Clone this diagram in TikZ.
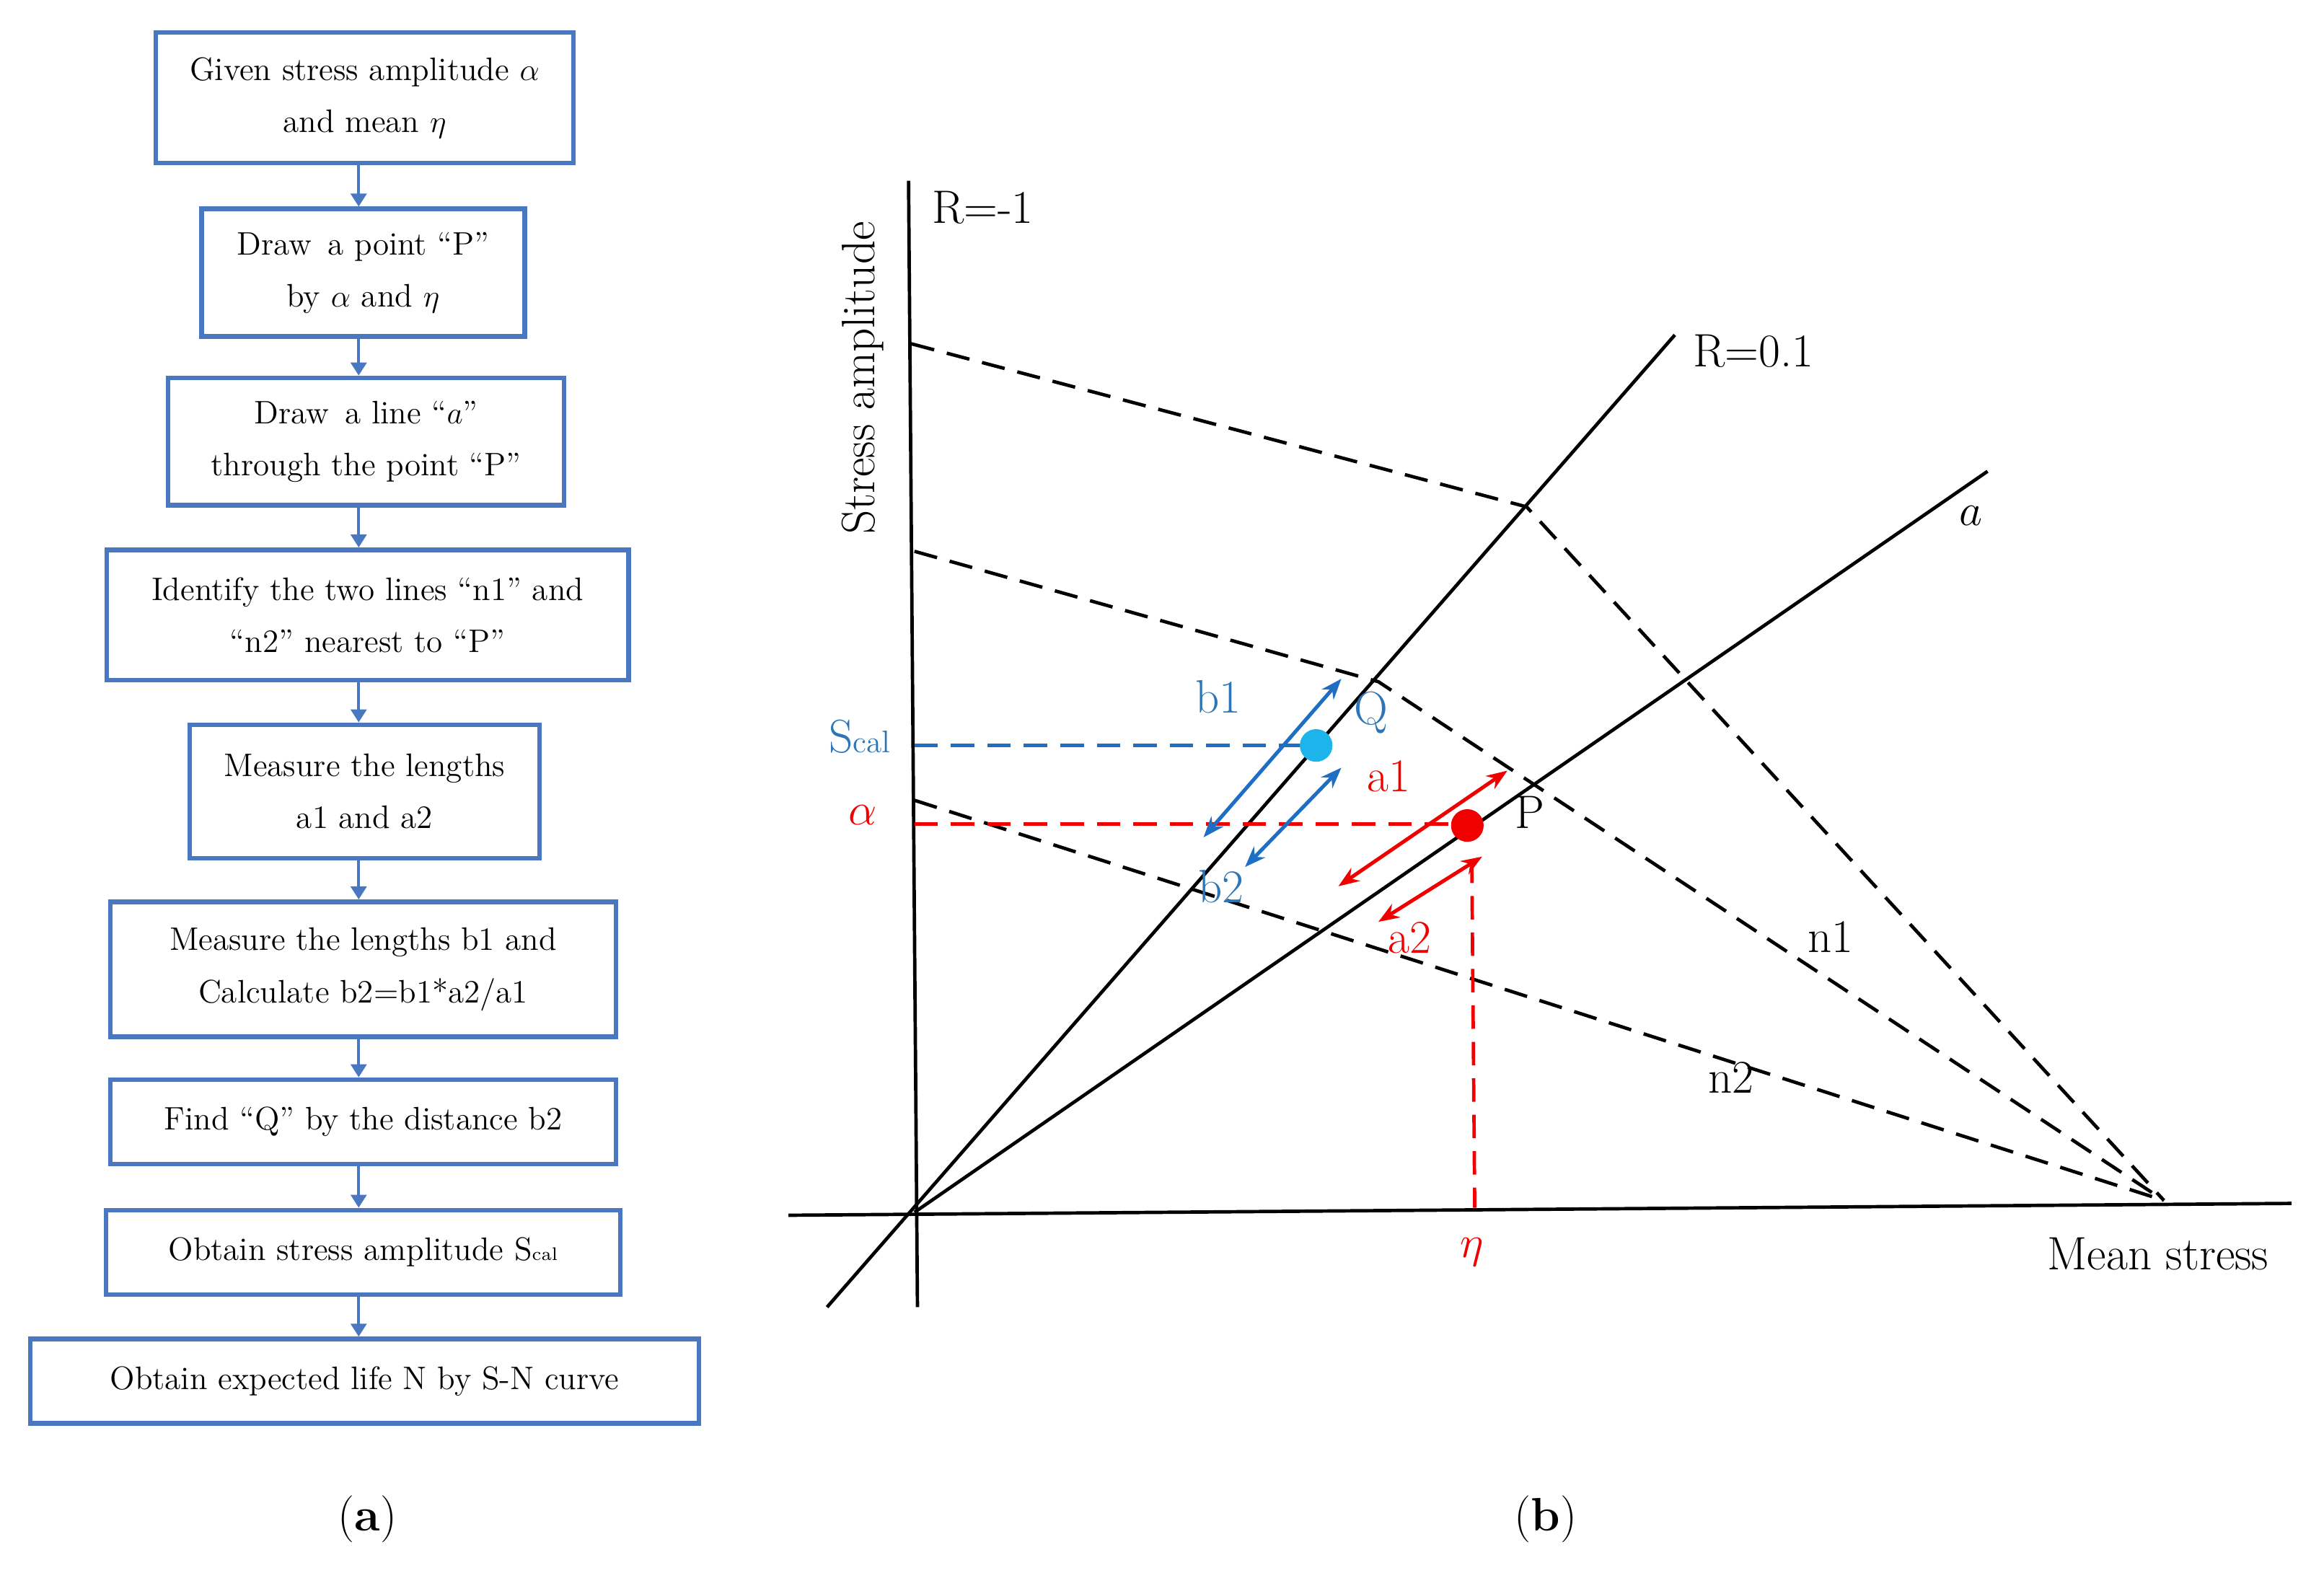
\documentclass[tikz,border=0pt]{standalone}
\usetikzlibrary{arrows.meta}
\definecolor{fb}{HTML}{4A78C0}
\definecolor{bt}{HTML}{2E75B6}
\definecolor{ba}{HTML}{1E6FC4}
\definecolor{cy}{HTML}{1DB4EC}
\definecolor{rd}{HTML}{F00000}
\begin{document}
\begin{tikzpicture}[x=0.02cm,y=-0.02cm,
  box/.style={draw=fb,line width=1.8pt,align=center,inner sep=0pt,font=\fontsize{12.5}{20}\selectfont},
  flow/.style={draw=fb,line width=1.2pt,-{Triangle[length=5pt,width=6pt]}},
  ax/.style={line width=1.3pt},
  dsh/.style={line width=1.3pt,dash pattern=on 9pt off 5pt},
  lbl/.style={font=\fontsize{18}{20}\selectfont},
  darr/.style={line width=1.4pt,{Stealth[length=8pt]}-{Stealth[length=8pt]}}]
\useasboundingbox (0,0) rectangle (1568,1061);
% flowchart
\node[box,minimum width=282*0.02cm,minimum height=88*0.02cm] (f1) at (246,66) {Given stress amplitude $\alpha$\\and mean $\eta$};
\node[box,minimum width=218*0.02cm,minimum height=86*0.02cm] (f2) at (245,184) {Draw\, a point ``P''\\by $\alpha$ and $\eta$};
\node[box,minimum width=267*0.02cm,minimum height=86*0.02cm] (f3) at (247,298) {Draw\, a line ``$a$''\\through the point ``P''};
\node[box,minimum width=352*0.02cm,minimum height=88*0.02cm] (f4) at (248,415) {Identify the two lines ``n1'' and\\``n2'' nearest to ``P''};
\node[box,minimum width=236*0.02cm,minimum height=90*0.02cm] (f5) at (246,534) {Measure the lengths\\a1 and a2};
\node[box,minimum width=341*0.02cm,minimum height=91*0.02cm] (f6) at (245,654) {Measure the lengths b1 and\\Calculate b2=b1*a2/a1};
\node[box,minimum width=341*0.02cm,minimum height=57*0.02cm] (f7) at (245,757) {Find ``Q'' by the distance b2};
\node[box,minimum width=347*0.02cm,minimum height=57*0.02cm] (f8) at (245,845) {Obtain stress amplitude S{\scriptsize cal}};
\node[box,minimum width=451*0.02cm,minimum height=57*0.02cm] (f9) at (246,932) {Obtain expected life N by S-N curve};
\foreach \a/\b in {f1/f2,f2/f3,f3/f4,f4/f5,f5/f6,f6/f7,f7/f8,f8/f9}
  \draw[flow] (\a.south -| 242,0) -- (\b.north -| 242,0);
\node[lbl] (la) at (248,1025) {(\textbf{a})};
\node[lbl] (lb) at (1043,1025) {(\textbf{b})};
% diagram coordinates
\coordinate (O) at (617,818);
\coordinate (yt) at (613,122); \coordinate (yb) at (619,882);
\coordinate (xl) at (532,820); \coordinate (xr) at (1546,812);
\coordinate (rb) at (558,882); \coordinate (rt) at (1130,226);
\coordinate (at) at (1341,318);
\coordinate (F) at (1460,810);
\coordinate (t0) at (615,232); \coordinate (t1) at (1030,342);
\coordinate (m0) at (617,372); \coordinate (m1) at (930,460);
\coordinate (n0) at (617,540);
\draw[ax] (yt) -- (yb);
\draw[ax] (xl) -- (xr);
\draw[ax] (rb) -- (rt);
\draw[ax] (O) -- (at);
\draw[dsh] (t0) -- (t1) -- (F);
\draw[dsh] (m0) -- (m1) -- (F);
\draw[dsh] (n0) -- (F);
\node[lbl] (rm1) at (663,140) {R=-1};
\node[lbl] (r01) at (1183,237) {R=0.1};
\node[lbl,font=\fontsize{18}{20}\selectfont\itshape] (la2) at (1330,348) {$a$};
\node[lbl,rotate=90] (sa) at (582,255) {Stress amplitude};
\node[lbl] (ms) at (1456,846) {Mean stress};
\node[lbl] (ln1) at (1235,632) {n1};
\node[lbl] (ln2) at (1168,727) {n2};
% red
\coordinate (ay) at (617,556); \coordinate (ex) at (995,815); \coordinate (pt) at (993,580);
\draw[dsh,rd] (ay) -- (990,556);
\draw[dsh,rd] (pt) -- (ex);
\node[circle,fill=rd,inner sep=0pt,minimum size=22*0.02cm] (P) at (990,557) {};
\node[lbl,text=rd] (al) at (582,550) {$\alpha$};
\node[lbl,text=rd] (et) at (993,845) {$\eta$};
\coordinate (a1s) at (903,598); \coordinate (a1e) at (1017,520);
\coordinate (a2s) at (930,622); \coordinate (a2e) at (1000,578);
\draw[darr,rd] (a1s) -- (a1e);
\draw[darr,rd] (a2s) -- (a2e);
\node[lbl,text=rd] (la1) at (937,524) {a1};
\node[lbl,text=rd] (la2b) at (951,633) {a2};
\node[lbl] (lP) at (1032,548) {P};
% blue
\coordinate (sy) at (617,503);
\draw[dsh,ba] (sy) -- (880,503);
\node[circle,fill=cy,inner sep=0pt,minimum size=22*0.02cm] (Q) at (888,503) {};
\node[lbl,text=bt] (sc) at (580,497) {S{\fontsize{12}{12}\selectfont cal}};
\coordinate (b1s) at (812,565); \coordinate (b1e) at (905,458);
\coordinate (b2s) at (840,585); \coordinate (b2e) at (905,518);
\draw[darr,ba] (b1s) -- (b1e);
\draw[darr,ba] (b2s) -- (b2e);
\node[lbl,text=bt] (lb1) at (822,470) {b1};
\node[lbl,text=bt] (lb2) at (824,598) {b2};
\node[lbl,text=bt] (lQ) at (925,481) {Q};
\end{tikzpicture}
\end{document}
